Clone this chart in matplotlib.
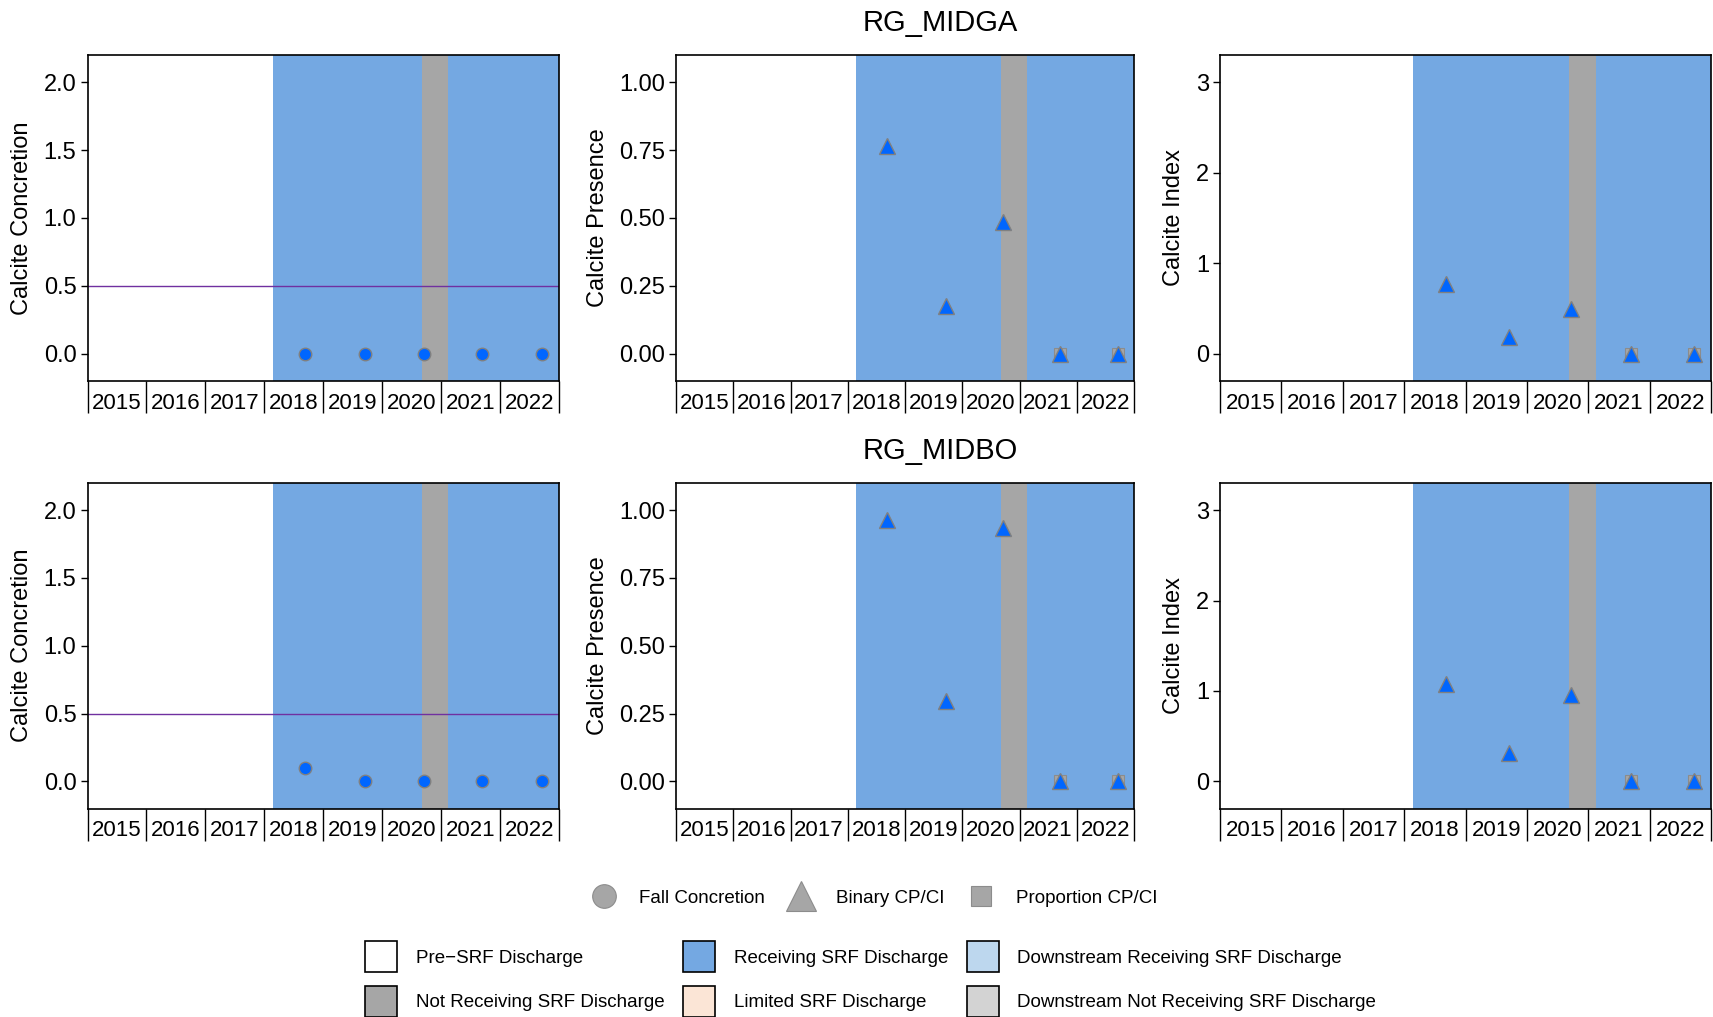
import numpy as np
import matplotlib
matplotlib.use("Agg")
import matplotlib.pyplot as plt
from matplotlib.lines import Line2D
from matplotlib.patches import Patch

plt.rcParams['font.family'] = ['Liberation Sans', 'DejaVu Sans']

# sampling dates (decimal year) and values
sample_t = [2018.69, 2019.71, 2020.72, 2021.70, 2022.72]

midga_conc = [0.0, 0.0, 0.0, 0.0, 0.0]
midga_cp = [0.765, 0.176, 0.485, 0.0, 0.0]
midga_ci = [0.775, 0.19, 0.50, 0.0, 0.0]

midbo_conc = [0.10, 0.0, 0.0, 0.0, 0.0]
midbo_cp = [0.965, 0.295, 0.935, 0.0, 0.0]
midbo_ci = [1.08, 0.31, 0.95, 0.0, 0.0]

# proportion CP/CI (only sampled in the last two years)
prop_t = [2021.70, 2022.72]
midga_prop = [0.0, 0.0]
midbo_prop = [0.0, 0.0]

sites = ['RG_MIDGA', 'RG_MIDBO']

# discharge periods (start, end, status)
periods = [(2015.0, 2018.15, 'pre'),
           (2018.15, 2020.68, 'recv'),
           (2020.68, 2021.13, 'notrecv'),
           (2021.13, 2023.0, 'recv')]

years = list(range(2015, 2023))

status_col = {'pre': 'white', 'recv': '#74A8E2', 'notrecv': '#A6A6A6',
              'ds_recv': '#BDD7EE', 'limited': '#FBE5D6', 'ds_notrecv': '#D3D3D3'}
status_lab = [('pre', 'Pre\u2212SRF Discharge'),
              ('notrecv', 'Not Receiving SRF Discharge'),
              ('recv', 'Receiving SRF Discharge'),
              ('limited', 'Limited SRF Discharge'),
              ('ds_recv', 'Downstream Receiving SRF Discharge'),
              ('ds_notrecv', 'Downstream Not Receiving SRF Discharge')]

pt_fill = '#0066FF'
pt_edge = '#808080'

W, H = 1713, 1017
fig = plt.figure(figsize=(W / 100, H / 100), dpi=100)

# panel boxes in pixels: (left, right)
cols = [(87.5, 558.6), (676, 1134), (1220, 1711)]
rows = [(55, 381), (483, 808.5)]
ylab_x = [22, 598, 1174]

panels = [
    ('Calcite Concretion', (-0.2, 2.2), [0, 0.5, 1.0, 1.5, 2.0], '{:.1f}', 'o'),
    ('Calcite Presence', (-0.1, 1.1), [0, 0.25, 0.5, 0.75, 1.0], '{:.2f}', '^'),
    ('Calcite Index', (-0.3, 3.3), [0, 1, 2, 3], '{:.0f}', '^'),
]
data = [[midga_conc, midga_cp, midga_ci], [midbo_conc, midbo_cp, midbo_ci]]
props = [midga_prop, midbo_prop]

for r, (top, bot) in enumerate(rows):
    for c, (lft, rgt) in enumerate(cols):
        ax = fig.add_axes([lft / W, (H - bot) / H, (rgt - lft) / W, (bot - top) / H])
        ylabel, ylim, yt, fmt, mk = panels[c]
        for s, e, st in periods:
            ax.axvspan(s, e, color=status_col[st], lw=0, zorder=0)
        if c == 0:
            ax.axhline(0.5, color='#7030A0', lw=1.0, zorder=2)
        else:
            ax.plot(prop_t, props[r], ls='none', marker='s', ms=8,
                    mfc='#A6A6A6', mec='#8C8C8C', mew=0.8, zorder=2.5)
        ms = 9 if mk == 'o' else 11
        ax.plot(sample_t, data[r][c], ls='none', marker=mk, ms=ms,
                mfc=pt_fill, mec=pt_edge, mew=1.0, zorder=3)
        ax.set_xlim(2015, 2023)
        ax.set_ylim(*ylim)
        ax.set_yticks(yt)
        ax.set_yticklabels([fmt.format(v) for v in yt])
        ax.set_xticks(list(range(2015, 2024)))
        ax.set_xticklabels([])
        ax.set_xticks([y + 0.5 for y in years], minor=True)
        ax.set_xticklabels([str(y) for y in years], minor=True)
        ax.tick_params(axis='x', which='major', direction='out', length=23, width=1.0, color='black')
        ax.tick_params(axis='x', which='minor', length=0, pad=8.5, labelsize=16)
        ax.tick_params(axis='y', direction='out', length=5, width=1.0, pad=3, labelsize=17)
        for sp in ax.spines.values():
            sp.set_linewidth(1.2)
        ax.set_ylabel(ylabel, fontsize=17, va='center')
        ax.yaxis.set_label_coords((ylab_x[c] - lft) / (rgt - lft), 0.5)

fig.text(940 / W, 1 - 23 / H, sites[0], ha='center', va='center', fontsize=21)
fig.text(940 / W, 1 - 451 / H, sites[1], ha='center', va='center', fontsize=21)

# marker legend
mk_handles = [
    Line2D([], [], ls='none', marker='o', ms=17, mfc='#A6A6A6', mec='#8C8C8C', mew=0.8),
    Line2D([], [], ls='none', marker='^', ms=21, mfc='#A6A6A6', mec='#8C8C8C', mew=0.8),
    Line2D([], [], ls='none', marker='s', ms=14, mfc='#A6A6A6', mec='#8C8C8C', mew=0.8),
]
leg1 = fig.legend(mk_handles, ['Fall Concretion', 'Binary CP/CI', 'Proportion CP/CI'],
                  loc='center left', bbox_to_anchor=(590 / W, (H - 898) / H), ncol=3,
                  frameon=False, fontsize=13.5, handlelength=1.5, handletextpad=1.1,
                  columnspacing=1.2, borderpad=0, borderaxespad=0)

st_handles = [Patch(facecolor=status_col[k], edgecolor='black', lw=1.2) for k, _ in status_lab]
leg2 = fig.legend(st_handles, [lab for _, lab in status_lab],
                  loc='center left', bbox_to_anchor=(365 / W, (H - 979) / H), ncol=3,
                  frameon=False, fontsize=13.5, handlelength=1.7, handleheight=2.2,
                  handletextpad=1.0, columnspacing=1.0, labelspacing=0.7,
                  borderpad=0, borderaxespad=0)

fig.savefig('out.png', dpi=100)
